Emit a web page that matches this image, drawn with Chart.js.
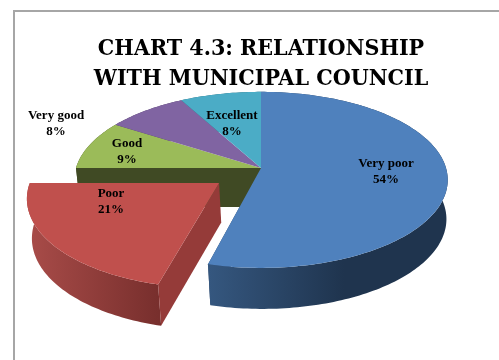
<!DOCTYPE html>
<html>
<head>
<meta charset="utf-8">
<title>Relationship with municipal council</title>
<style>
  html, body { margin: 0; padding: 0; background: #fff; }
  canvas { display: block; }
</style>
<script src="https://cdn.jsdelivr.net/npm/chart.js@4/dist/chart.umd.min.js"></script>
</head>
<body>
<canvas id="chart" width="499" height="360"></canvas>
<script>
const categories = ["Very poor", "Poor", "Good", "Very good", "Excellent"];
const shares = [54, 21, 9, 8, 8];
const titleLines = ["CHART 4.3: RELATIONSHIP", "WITH MUNICIPAL COUNCIL"];
const topColors = ["#4f81bd", "#c0504d", "#9bbb59", "#8064a2", "#4bacc6"];
const cutFaceColors = ["#2c4668", "#953b39", "#404a24", "#4a3a5e", "#2c6473"];
const wallColors = [
  ["#35577f", "#1f344e"],
  ["#a94c49", "#782f2d"],
  ["#404a24", "#404a24"],
  ["#4a3a5e", "#4a3a5e"],
  ["#2c6473", "#2c6473"]
];

// Pixel centre of each data label, in slice order.
const labelCentres = [[386, 172], [111, 202], [127, 152], [56, 124], [232, 124]];

// Perspective model of the tilted disc and its lower face.
const VIEW = { rx: 185, ry: 86.4, tilt: 0.136, depth: 39, shrinkX: 0.985, driftX: 1.5, stretchY: 1.02, explode: 0.28 };

function project(el, u, v, lower) {
  const w = 1 - VIEW.tilt * v;
  let dx = VIEW.rx * u / w;
  let dy = VIEW.ry * v / w;
  if (lower) {
    dx = dx * VIEW.shrinkX + VIEW.driftX;
    dy = dy * VIEW.stretchY + VIEW.depth;
  }
  return [el.x + dx, el.y + dy];
}

function sliceOutline(el, lower) {
  const shift = el.options.offset > 0 ? VIEW.explode : 0;
  const mid = (el.startAngle + el.endAngle) / 2;
  const ou = shift * Math.cos(mid), ov = shift * Math.sin(mid);
  const sweep = el.endAngle - el.startAngle;
  const steps = Math.max(8, Math.ceil(sweep / 0.02));
  const rim = [];
  for (let i = 0; i <= steps; i++) {
    const a = el.startAngle + sweep * i / steps;
    rim.push(project(el, Math.cos(a) + ou, Math.sin(a) + ov, lower));
  }
  return { rim, apex: project(el, ou, ov, lower) };
}

function fillPolygon(ctx, pts, fill) {
  ctx.beginPath();
  pts.forEach((p, i) => (i ? ctx.lineTo(p[0], p[1]) : ctx.moveTo(p[0], p[1])));
  ctx.closePath();
  ctx.fillStyle = fill;
  ctx.fill();
}

function drawWall(ctx, el, i) {
  const top = sliceOutline(el, false);
  const low = sliceOutline(el, true);
  // Shading runs left to right over the rim; the blue wall reaches its dark tone early.
  const isPulled = el.options.offset > 0;
  const xs = top.rim.map(p => p[0]);
  const grad = ctx.createLinearGradient(isPulled ? Math.min(...xs) : 209, 0, isPulled ? Math.max(...xs) : 344, 0);
  grad.addColorStop(0, wallColors[i][0]);
  grad.addColorStop(1, wallColors[i][1]);
  fillPolygon(ctx, top.rim.concat(low.rim.slice().reverse()), grad);
}

function drawCutFace(ctx, el, i, atStart) {
  const top = sliceOutline(el, false);
  const low = sliceOutline(el, true);
  const at = atStart ? 0 : top.rim.length - 1;
  fillPolygon(ctx, [top.apex, top.rim[at], low.rim[at], low.apex], cutFaceColors[i]);
}

function drawTop(ctx, el, i) {
  const top = sliceOutline(el, false);
  fillPolygon(ctx, [top.apex].concat(top.rim), topColors[i]);
}

const tiltedPie = {
  id: "tiltedPie",
  beforeDatasetsDraw(chart) {
    const ctx = chart.ctx;
    const arcs = chart.getDatasetMeta(0).data;
    const n = arcs.length;
    const pulled = el => el.options.offset > 0;
    ctx.save();
    ctx.lineJoin = "round";
    // Slices staying in the disc: inner faces show only beside the gap, behind the walls.
    arcs.forEach((el, i) => {
      if (pulled(el)) return;
      if (pulled(arcs[(i + n - 1) % n])) drawCutFace(ctx, el, i, true);
      if (pulled(arcs[(i + 1) % n])) drawCutFace(ctx, el, i, false);
    });
    arcs.forEach((el, i) => { if (!pulled(el)) drawWall(ctx, el, i); });
    arcs.forEach((el, i) => { if (!pulled(el)) drawTop(ctx, el, i); });
    // The pulled-out slice sits in front of the rest.
    arcs.forEach((el, i) => {
      if (!pulled(el)) return;
      drawWall(ctx, el, i);
      drawCutFace(ctx, el, i, true);
      drawTop(ctx, el, i);
    });
    ctx.restore();
    return false;
  },
  afterDraw(chart) {
    const ctx = chart.ctx;
    ctx.save();
    // Frame, open towards the right and bottom edges of the page.
    ctx.strokeStyle = "#a6a6a6";
    ctx.lineWidth = 2;
    ctx.beginPath();
    ctx.moveTo(14, 360);
    ctx.lineTo(14, 11);
    ctx.lineTo(499, 11);
    ctx.stroke();

    ctx.fillStyle = "#000";
    ctx.font = "bold 13px 'Liberation Serif'";
    ctx.textAlign = "center";
    ctx.textBaseline = "middle";
    categories.forEach((name, i) => {
      const [x, y] = labelCentres[i];
      ctx.fillText(name, x, y - 8);
      ctx.fillText(shares[i] + "%", x, y + 8);
    });
    ctx.restore();
  }
};

new Chart(document.getElementById("chart"), {
  type: "pie",
  data: {
    labels: categories,
    datasets: [{
      data: shares,
      backgroundColor: topColors,
      borderWidth: 0,
      offset: ctx => (ctx.dataIndex === 1 ? 16 : 0)
    }]
  },
  plugins: [tiltedPie],
  options: {
    responsive: false,
    animation: false,
    layout: { padding: { left: 23, top: 0, right: 0, bottom: 120 } },
    plugins: {
      legend: { display: false },
      tooltip: { enabled: false },
      title: {
        display: true,
        text: titleLines,
        color: "#000",
        font: { family: "'DejaVu Serif Condensed', 'DejaVu Serif', 'Liberation Serif'", size: 23, weight: "bold", lineHeight: 1.3 },
        padding: { top: 34, bottom: 2 }
      }
    }
  }
});
</script>
</body>
</html>
